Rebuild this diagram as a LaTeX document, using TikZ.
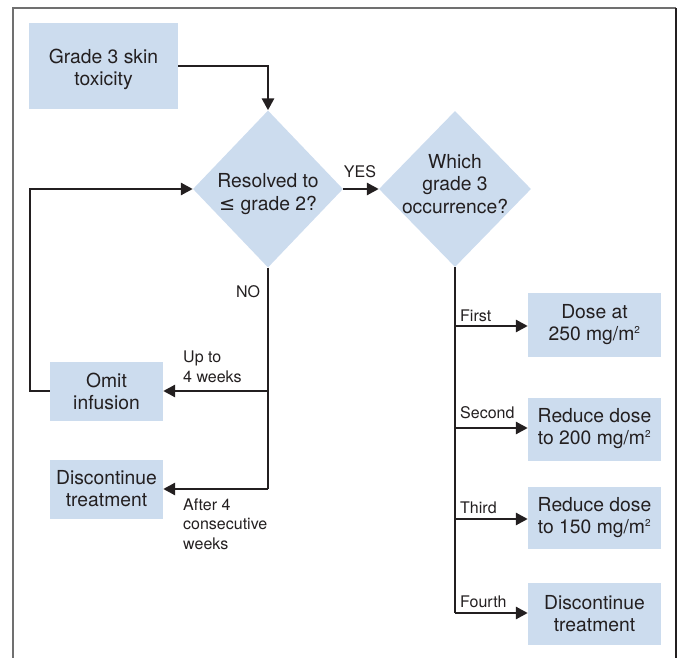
\documentclass[tikz,border=0pt]{standalone}
\usepackage{fontspec}
\setmainfont{TeX Gyre Heros}
\newfontfamily\dejavu{DejaVu Sans}
\usetikzlibrary{shapes.geometric,arrows.meta}
\definecolor{boxblue}{HTML}{CCDCEE}
\definecolor{ink}{HTML}{231F20}
\definecolor{framegray}{HTML}{707070}
\begin{document}
\begin{tikzpicture}[x=1pt,y=-1pt,
  every node/.style={text=ink},
  box/.style={rectangle,fill=boxblue,inner sep=0pt,align=center,
    font=\fontsize{19.3}{22}\selectfont},
  boxtext/.style={align=center,inner sep=0pt,font=\fontsize{19.3}{22}\selectfont},
  dia/.style={diamond,fill=boxblue,inner sep=0pt,minimum width=150pt,minimum height=157pt},
  diatext/.style={align=center,font=\fontsize{19.3}{22.8}\selectfont},
  lab/.style={align=left,inner sep=0pt,font=\fontsize{16}{19.5}\selectfont},
  conn/.style={draw=ink,line width=2.8pt},
  arr/.style={conn,-{Triangle[length=12pt,width=12pt]}}]
\useasboundingbox (0,0) rectangle (681,658);
% frame
\draw[framegray,line width=1.6pt] (13,658) -- (13,8) -- (676,8);
\draw[ink,line width=1.8pt] (676,8) -- (676,658);

% nodes
\node[box,minimum width=149pt,minimum height=86pt] (g3) at (103.5,66) {};
\node[boxtext] at (103.5,69.5) {Grade 3 skin\\toxicity};
\node[dia] (d1) at (268,189) {};
\node[diatext] at (268,194) {Resolved to\\{\dejavu ≤} grade 2?};
\node[dia,minimum width=152pt,minimum height=156pt] (d2) at (455,189) {};
\node[diatext] at (455,184) {Which\\grade 3\\occurrence?};

\node[box,minimum width=113pt,minimum height=59pt] (omit) at (106.5,391) {Omit\\infusion};
\node[box,minimum width=113pt,minimum height=59pt] (disc) at (106.5,489) {Discontinue\\treatment};

\node[box,minimum width=133pt,minimum height=63pt] (r1) at (594.5,325) {Dose at\\250 mg/m\textsuperscript{\fontsize{10}{10}\selectfont 2}};
\node[box,minimum width=133pt,minimum height=63pt] (r2) at (594.5,429) {Reduce dose\\to 200 mg/m\textsuperscript{\fontsize{10}{10}\selectfont 2}};
\node[box,minimum width=133pt,minimum height=62pt] (r3) at (594.5,518) {Reduce dose\\to 150 mg/m\textsuperscript{\fontsize{10}{10}\selectfont 2}};
\node[box,minimum width=133pt,minimum height=62pt] (r4) at (594.5,614) {Discontinue\\treatment};

% labels
\node[lab] (yes) at (360,172) {YES};
\node[lab] (no) at (248,292) {NO};
\node[lab,anchor=west] (upto) at (183,367) {Up to\\4 weeks};
\node[lab,anchor=west] (after) at (183,524) {After 4\\consecutive\\weeks};
\node[lab,anchor=west] (first) at (460,316) {First};
\node[lab,anchor=west] (second) at (460,413) {Second};
\node[lab,anchor=west] (third) at (460,508) {Third};
\node[lab,anchor=west] (fourth) at (460,602) {Fourth};

% coordinates
\coordinate (j1) at (268,391);
\coordinate (j2) at (268,489);
\coordinate (k0) at (30,391);
\coordinate (k1) at (30,189);
\coordinate (b1) at (455,326);
\coordinate (b2) at (455,428);
\coordinate (b3) at (455,519);
\coordinate (b4) at (455,613);

% connectors
\draw[arr] (g3.east) -| (d1.north);
\draw[arr] (d1.east) -- (d2.west);
\draw[conn] (d1.south) -- (j2);
\draw[arr] (j1) -- (omit.east);
\draw[arr] (j2) -- (disc.east);
\draw[arr] (omit.west) -- (k0) -- (k1) -- (d1.west);
\draw[conn] (d2.south) -- (b4);
\draw[arr] (b1) -- (b1 -| r1.west);
\draw[arr] (b2) -- (b2 -| r2.west);
\draw[arr] (b3) -- (b3 -| r3.west);
\draw[arr] (b4) -- (b4 -| r4.west);
\end{tikzpicture}
\end{document}
